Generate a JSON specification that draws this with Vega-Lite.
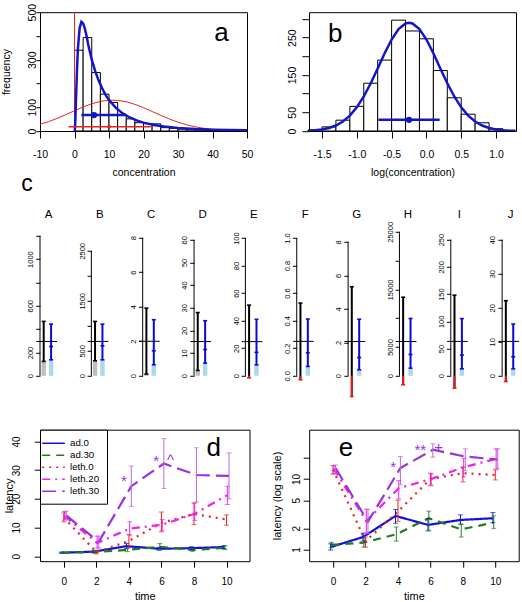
{
"$schema": "https://vega.github.io/schema/vega-lite/v6.json",
"padding": {"left": 0, "top": 2.2, "right": 0, "bottom": 0},
"background": "white",
"config": {
  "font": "Liberation Sans",
  "view": {"stroke": null},
  "axis": {"grid": false, "domain": false, "tickColor": "black", "labelColor": "black", "titleColor": "black", "titleFontWeight": "normal", "labelFont": "Liberation Sans", "titleFont": "Liberation Sans", "tickWidth": 1, "labelOverlap": false, "labelFlush": false, "labelBound": false, "tickCount": 50},
  "title": {"font": "Liberation Sans", "fontWeight": "normal", "color": "black"},
  "legend": {"orient": "top-left", "offset": 0, "padding": 7, "fillColor": "white", "strokeColor": "black", "cornerRadius": 0, "symbolType": "M-2,0H2", "symbolSize": 128, "symbolStrokeWidth": 1.5, "labelFontSize": 9.7, "labelOffset": 10, "rowPadding": 0, "symbolOffset": 0, "labelFont": "Liberation Sans", "labelColor": "black"}
},
"resolve": {"scale": {"color": "independent", "strokeDash": "independent", "stroke": "independent", "fill": "independent"}},
"datasets": {
  "ha": [{"x0":0,"x1":2.5,"n":340},{"x0":2.5,"x1":5,"n":393},{"x0":5,"x1":7.5,"n":246},{"x0":7.5,"x1":10,"n":155},{"x0":10,"x1":12.5,"n":120},{"x0":12.5,"x1":15,"n":67},{"x0":15,"x1":17.5,"n":51},{"x0":17.5,"x1":20,"n":35},{"x0":20,"x1":22.5,"n":31},{"x0":22.5,"x1":25,"n":30},{"x0":25,"x1":27.5,"n":14},{"x0":27.5,"x1":30,"n":11},{"x0":30,"x1":32.5,"n":8},{"x0":32.5,"x1":35,"n":5},{"x0":35,"x1":37.5,"n":4},{"x0":37.5,"x1":40,"n":3},{"x0":40,"x1":42.5,"n":2},{"x0":42.5,"x1":45,"n":1},{"x0":45,"x1":47.5,"n":1}],
  "la": [{"x":0,"y":0},{"x":0.1,"y":4.3},{"x":0.25,"y":46.7},{"x":0.5,"y":162.6},{"x":0.75,"y":269.4},{"x":1,"y":348.3},{"x":1.5,"y":434.4},{"x":2,"y":459.4},{"x":2.5,"y":452.9},{"x":3,"y":431.3},{"x":3.5,"y":400},{"x":4,"y":362},{"x":5,"y":300},{"x":6,"y":252},{"x":7,"y":212},{"x":8,"y":180},{"x":9,"y":152},{"x":10,"y":130},{"x":12,"y":97},{"x":14,"y":74},{"x":16,"y":57},{"x":18,"y":44.7},{"x":20,"y":35.3},{"x":23,"y":25.5},{"x":26,"y":18.8},{"x":30,"y":12.9},{"x":35,"y":8.4},{"x":40,"y":5.7},{"x":45,"y":4.0},{"x":50,"y":2.9}],
  "na": [{"x":-10,"y":28.1},{"x":-7.5,"y":39.6},{"x":-5,"y":53.4},{"x":-2.5,"y":69.0},{"x":0,"y":85.4},{"x":2.5,"y":101.2},{"x":5,"y":114.7},{"x":7.5,"y":124.6},{"x":10,"y":129.5},{"x":12.5,"y":129.0},{"x":15,"y":123.0},{"x":17.5,"y":112.3},{"x":20,"y":98.1},{"x":22.5,"y":82.1},{"x":25,"y":65.8},{"x":27.5,"y":50.5},{"x":30,"y":37.1},{"x":32.5,"y":26.1},{"x":35,"y":17.6},{"x":37.5,"y":11.3},{"x":40,"y":7.0},{"x":42.5,"y":4.1},{"x":45,"y":2.4},{"x":47.5,"y":1.3},{"x":50,"y":0.7}],
  "hb": [{"x0":-1.7,"x1":-1.5,"n":3},{"x0":-1.5,"x1":-1.3,"n":11},{"x0":-1.3,"x1":-1.1,"n":29},{"x0":-1.1,"x1":-0.9,"n":66},{"x0":-0.9,"x1":-0.7,"n":128},{"x0":-0.7,"x1":-0.5,"n":190},{"x0":-0.5,"x1":-0.3,"n":297},{"x0":-0.3,"x1":-0.1,"n":268},{"x0":-0.1,"x1":0.1,"n":247},{"x0":0.1,"x1":0.3,"n":162},{"x0":0.3,"x1":0.5,"n":89},{"x0":0.5,"x1":0.7,"n":45},{"x0":0.7,"x1":0.9,"n":22},{"x0":0.9,"x1":1.1,"n":6}],
  "cb": [{"x":-1.69,"y":1.0},{"x":-1.6,"y":2.1},{"x":-1.5,"y":4.2},{"x":-1.4,"y":8.1},{"x":-1.3,"y":14.7},{"x":-1.2,"y":25.3},{"x":-1.1,"y":41.1},{"x":-1.0,"y":63.4},{"x":-0.9,"y":92.5},{"x":-0.8,"y":128.0},{"x":-0.7,"y":167.6},{"x":-0.6,"y":208.3},{"x":-0.5,"y":245.0},{"x":-0.4,"y":272.9},{"x":-0.3,"y":288.1},{"x":-0.25,"y":290},{"x":-0.2,"y":288.1},{"x":-0.1,"y":272.9},{"x":0.0,"y":245.0},{"x":0.1,"y":208.3},{"x":0.2,"y":167.6},{"x":0.3,"y":128.0},{"x":0.4,"y":92.5},{"x":0.5,"y":63.4},{"x":0.6,"y":41.1},{"x":0.7,"y":25.3},{"x":0.8,"y":14.7},{"x":0.9,"y":8.1},{"x":1.0,"y":4.2},{"x":1.1,"y":2.1},{"x":1.2,"y":1.0},{"x":1.28,"y":0.5}],
  "cp": [
    {"p":"A","m":294,"lo":123,"hi":466,"qlo":137,"qmid":251,"qhi":443,"top":1200},
    {"p":"B","m":687,"lo":300,"hi":1087,"qlo":320,"qmid":600,"qhi":1033,"top":2500},
    {"p":"C","m":2.0,"lo":0.1,"hi":3.92,"qlo":0.64,"qmid":1.45,"qhi":3.25,"top":8},
    {"p":"D","m":15.1,"lo":2.35,"hi":27.9,"qlo":5.6,"qmid":11.6,"qhi":24.3,"top":60},
    {"p":"E","m":24.8,"lo":-1.5,"hi":51.3,"qlo":8,"qmid":17,"qhi":41,"top":100},
    {"p":"F","m":0.25,"lo":-0.029,"hi":0.528,"qlo":0.068,"qmid":0.167,"qhi":0.412,"top":1.0},
    {"p":"G","m":2.05,"lo":-1.24,"hi":5.32,"qlo":0.36,"qmid":1.09,"qhi":3.38,"top":8},
    {"p":"H","m":5950,"lo":-1560,"hi":13640,"qlo":1330,"qmid":3700,"qhi":9950,"top":25000},
    {"p":"I","m":63.1,"lo":-22.6,"hi":148,"qlo":12.9,"qmid":38,"qhi":105,"top":250},
    {"p":"J","m":10.1,"lo":-1.68,"hi":22.06,"qlo":2.06,"qmid":5.6,"qhi":15.2,"top":40}
  ],
  "lat": [
    {"s":"ad.0","t":-0.15,"v":1.2,"lo":1.0,"hi":1.4},{"s":"ad.0","t":1.85,"v":1.6,"lo":1.3,"hi":1.9},{"s":"ad.0","t":3.85,"v":3.5,"lo":2.6,"hi":4.4},{"s":"ad.0","t":5.85,"v":2.6,"lo":2.1,"hi":3.1},{"s":"ad.0","t":7.85,"v":2.8,"lo":2.3,"hi":3.3},{"s":"ad.0","t":9.85,"v":3.2,"lo":2.6,"hi":3.7},
    {"s":"ad.30","t":-0.1,"v":1.2,"lo":1.0,"hi":1.4},{"s":"ad.30","t":1.9,"v":1.4,"lo":1.1,"hi":1.7},{"s":"ad.30","t":3.9,"v":2.2,"lo":1.6,"hi":2.8},{"s":"ad.30","t":5.9,"v":3.3,"lo":2.2,"hi":4.4},{"s":"ad.30","t":7.9,"v":2.2,"lo":1.7,"hi":2.7},{"s":"ad.30","t":9.9,"v":2.9,"lo":2.3,"hi":3.6},
    {"s":"leth.0","t":0,"v":13.5,"lo":12.0,"hi":15.1},{"s":"leth.0","t":2,"v":1.4,"lo":0.8,"hi":2.1},{"s":"leth.0","t":4,"v":5.3,"lo":3.0,"hi":7.5},{"s":"leth.0","t":6,"v":11.6,"lo":8.5,"hi":15.4},{"s":"leth.0","t":8,"v":14.7,"lo":11.0,"hi":18.5},{"s":"leth.0","t":10,"v":12.8,"lo":10.8,"hi":14.4},
    {"s":"leth.20","t":0.05,"v":14.0,"lo":12.6,"hi":15.6},{"s":"leth.20","t":2.05,"v":4.6,"lo":2.9,"hi":7.0},{"s":"leth.20","t":4.05,"v":9.6,"lo":7.3,"hi":12.0},{"s":"leth.20","t":6.05,"v":11.0,"lo":9.0,"hi":12.8},{"s":"leth.20","t":8.05,"v":14.8,"lo":12.5,"hi":18.6},{"s":"leth.20","t":10.05,"v":21.3,"lo":18.0,"hi":24.4},
    {"s":"leth.30","t":0.15,"v":14.2,"lo":12.7,"hi":15.7},{"s":"leth.30","t":2.15,"v":5.0,"lo":2.8,"hi":7.0},{"s":"leth.30","t":4.15,"v":24.4,"lo":17.4,"hi":31.4},{"s":"leth.30","t":6.15,"v":32.3,"lo":23.6,"hi":41.0},{"s":"leth.30","t":8.15,"v":28.3,"lo":18.9,"hi":37.8},{"s":"leth.30","t":10.15,"v":28.0,"lo":20.0,"hi":36.0}
  ],
  "loglat": [
    {"s":"ad.0","t":-0.15,"v":1.08,"lo":0.98,"hi":1.2},{"s":"ad.0","t":1.85,"v":1.5,"lo":1.31,"hi":1.7},{"s":"ad.0","t":3.85,"v":2.99,"lo":2.35,"hi":3.7},{"s":"ad.0","t":5.85,"v":2.23,"lo":1.83,"hi":2.74},{"s":"ad.0","t":7.85,"v":2.62,"lo":2.27,"hi":3.1},{"s":"ad.0","t":9.85,"v":2.77,"lo":2.4,"hi":3.34},
    {"s":"ad.30","t":-0.1,"v":1.16,"lo":1.06,"hi":1.26},{"s":"ad.30","t":1.9,"v":1.25,"lo":1.08,"hi":1.42},{"s":"ad.30","t":3.9,"v":1.64,"lo":1.31,"hi":2.08},{"s":"ad.30","t":5.9,"v":2.77,"lo":1.87,"hi":3.5},{"s":"ad.30","t":7.9,"v":1.93,"lo":1.5,"hi":2.3},{"s":"ad.30","t":9.9,"v":2.4,"lo":1.99,"hi":3.0},
    {"s":"leth.0","t":0,"v":13.5,"lo":11.8,"hi":15.5},{"s":"leth.0","t":2,"v":1.31,"lo":1.08,"hi":1.5},{"s":"leth.0","t":4,"v":3.45,"lo":2.5,"hi":5.0},{"s":"leth.0","t":6,"v":10,"lo":8.0,"hi":12.1},{"s":"leth.0","t":8,"v":12.1,"lo":9.1,"hi":14.7},{"s":"leth.0","t":10,"v":11.4,"lo":9.7,"hi":13.4},
    {"s":"leth.20","t":0.05,"v":13.9,"lo":11.8,"hi":15.5},{"s":"leth.20","t":2.05,"v":2.54,"lo":1.73,"hi":3.72},{"s":"leth.20","t":4.05,"v":7.4,"lo":5.2,"hi":9.5},{"s":"leth.20","t":6.05,"v":10,"lo":8.2,"hi":11.8},{"s":"leth.20","t":8.05,"v":14.7,"lo":10.7,"hi":19.7},{"s":"leth.20","t":10.05,"v":19.3,"lo":13.9,"hi":26.8},
    {"s":"leth.30","t":0.15,"v":14.3,"lo":11.8,"hi":15.8},{"s":"leth.30","t":2.15,"v":2.48,"lo":1.67,"hi":3.72},{"s":"leth.30","t":4.15,"v":14.3,"lo":8.3,"hi":20.8},{"s":"leth.30","t":6.15,"v":26,"lo":20.4,"hi":31.6},{"s":"leth.30","t":8.15,"v":20.8,"lo":13.1,"hi":26.8},{"s":"leth.30","t":10.15,"v":18.9,"lo":13.9,"hi":26.8}
  ]
},
"vconcat": [
 {"vconcat": [
  {"hconcat": [
   {"width": 207, "height": 118.8, "view": {"stroke": "black", "strokeWidth": 1},
    "layer": [
     {"data": {"name": "ha"}, "mark": {"type": "rect", "fill": "white", "stroke": "black", "strokeWidth": 1},
      "encoding": {
       "x": {"field": "x0", "type": "quantitative", "scale": {"domain": [-10, 50], "nice": false, "zero": false},
             "axis": {"values": [-10,0,10,20,30,40,50], "tickCount": 50, "labelExpr": "datum.value < 0 ? '-' + format(-datum.value, 'd') : format(datum.value, 'd')", "title": "concentration", "tickSize": 7, "labelPadding": 11.9, "labelFontSize": 10.5, "titleFontSize": 10.5, "minExtent": 30, "maxExtent": 30, "titlePadding": 6.7, "labelOverlap": false}},
       "x2": {"field": "x1"},
       "y": {"field": "n", "type": "quantitative", "scale": {"domain": [0, 500], "nice": false, "zero": false},
             "axis": {"values": [0,100,200,300,400,500], "tickCount": 50, "labelExpr": "datum.value == 200 || datum.value == 400 ? '' : format(datum.value, 'd')", "title": "frequency", "tickSize": 4, "labelPadding": 0.9, "labelAngle": -90, "labelAlign": "center", "labelBaseline": "alphabetic", "labelFontSize": 10.5, "titleFontSize": 10.5, "titleAngle": 270, "titleBaseline": "alphabetic", "minExtent": 14, "maxExtent": 14, "titlePadding": 16.8, "labelOverlap": false}},
       "y2": {"datum": 0}}},
     {"data": {"name": "na"}, "mark": {"type": "line", "color": "#e8231f", "strokeWidth": 1, "clip": true},
      "encoding": {"x": {"field": "x", "type": "quantitative"}, "y": {"field": "y", "type": "quantitative"}}},
     {"data": {"values": [{"v": 0, "ymin": 0, "ymax": 500}]}, "mark": {"type": "rule", "color": "#e8231f", "strokeWidth": 1},
      "encoding": {"x": {"field": "v", "type": "quantitative"}, "y": {"field": "ymin", "type": "quantitative"}, "y2": {"field": "ymax"}}},
     {"data": {"name": "la"}, "mark": {"type": "line", "color": "#1414c8", "strokeWidth": 2.5, "clip": true},
      "encoding": {"x": {"field": "x", "type": "quantitative"}, "y": {"field": "y", "type": "quantitative"}}},
     {"data": {"values": [{"lo": -1.7, "hi": 22.1, "y": 18, "mid": 10}]}, "mark": {"type": "rule", "color": "#e8231f", "strokeWidth": 1.5},
      "encoding": {"x": {"field": "lo", "type": "quantitative"}, "x2": {"field": "hi"}, "y": {"field": "y", "type": "quantitative"}}},
     {"data": {"values": [{"lo": -1.7, "hi": 22.1, "y": 18, "mid": 10}]}, "mark": {"type": "point", "filled": true, "color": "#e8231f", "size": 14, "opacity": 1},
      "encoding": {"x": {"field": "mid", "type": "quantitative"}, "y": {"field": "y", "type": "quantitative"}}},
     {"data": {"values": [{"lo": 2.0, "hi": 15.0, "y": 67, "mid": 5.65}]}, "mark": {"type": "rule", "color": "#1414c8", "strokeWidth": 2.5},
      "encoding": {"x": {"field": "lo", "type": "quantitative"}, "x2": {"field": "hi"}, "y": {"field": "y", "type": "quantitative"}}},
     {"data": {"values": [{"lo": 2.0, "hi": 15.0, "y": 67, "mid": 5.65}]}, "mark": {"type": "point", "filled": true, "color": "#1414c8", "size": 40, "opacity": 1},
      "encoding": {"x": {"field": "mid", "type": "quantitative"}, "y": {"field": "y", "type": "quantitative"}}},
     {"data": {"values": [{"x": 42.6, "y": 377, "t": "a"}]}, "mark": {"type": "text", "fontSize": 26, "baseline": "alphabetic", "align": "center", "color": "black"},
      "encoding": {"x": {"field": "x", "type": "quantitative"}, "y": {"field": "y", "type": "quantitative"}, "text": {"field": "t"}}}
    ]},
   {"width": 207, "height": 118.8, "view": {"stroke": "black", "strokeWidth": 1},
    "layer": [
     {"data": {"name": "hb"}, "mark": {"type": "rect", "fill": "white", "stroke": "black", "strokeWidth": 1},
      "encoding": {
       "x": {"field": "x0", "type": "quantitative", "scale": {"domain": [-1.687, 1.287], "nice": false, "zero": false},
             "axis": {"values": [-1.5,-1.0,-0.5,0.0,0.5,1.0], "tickCount": 50, "labelExpr": "datum.value < 0 ? '-' + format(-datum.value, '.1f') : format(datum.value, '.1f')", "title": "log(concentration)", "tickSize": 7, "labelPadding": 11.9, "labelFontSize": 10.5, "titleFontSize": 10.5, "minExtent": 30, "maxExtent": 30, "titlePadding": 6.7, "labelOverlap": false}},
       "x2": {"field": "x1"},
       "y": {"field": "n", "type": "quantitative", "scale": {"domain": [0, 318.3], "nice": false, "zero": false},
             "axis": {"values": [0,50,100,150,200,250,300], "tickCount": 50, "labelExpr": "indexof([0,50,150,250], datum.value) >= 0 ? format(datum.value, 'd') : ''", "title": null, "tickSize": 7, "labelPadding": 6, "labelAngle": -90, "labelAlign": "center", "labelBaseline": "alphabetic", "labelFontSize": 10.5, "minExtent": 20, "maxExtent": 20, "labelOverlap": false}},
       "y2": {"datum": 0}}},
     {"data": {"name": "cb"}, "mark": {"type": "line", "color": "#1414c8", "strokeWidth": 2.5, "clip": true},
      "encoding": {"x": {"field": "x", "type": "quantitative"}, "y": {"field": "y", "type": "quantitative"}}},
     {"data": {"values": [{"lo": -0.69, "hi": 0.19, "y": 30, "mid": -0.25}]}, "mark": {"type": "rule", "color": "#1414c8", "strokeWidth": 2.5},
      "encoding": {"x": {"field": "lo", "type": "quantitative"}, "x2": {"field": "hi"}, "y": {"field": "y", "type": "quantitative"}}},
     {"data": {"values": [{"lo": -0.69, "hi": 0.19, "y": 30, "mid": -0.25}]}, "mark": {"type": "point", "filled": true, "color": "#1414c8", "size": 40, "opacity": 1},
      "encoding": {"x": {"field": "mid", "type": "quantitative"}, "y": {"field": "y", "type": "quantitative"}}},
     {"data": {"values": [{"x": -1.31, "y": 239, "t": "b"}]}, "mark": {"type": "text", "fontSize": 26, "baseline": "alphabetic", "align": "center", "color": "black"},
      "encoding": {"x": {"field": "x", "type": "quantitative"}, "y": {"field": "y", "type": "quantitative"}, "text": {"field": "t"}}}
    ]}
  ], "spacing": 62, "bounds": "flush"},
  {"title": {"text": "c", "anchor": "start", "fontSize": 23, "baseline": "alphabetic", "offset": -5.7, "dx": 13},
   "hconcat": [
    {"width": 17, "height": 146, "title": {"text": "A", "frame": "group", "offset": -1.5, "fontSize": 11.5, "anchor": "middle", "baseline": "bottom"},
     "data": {"name": "cp"}, "transform": [{"filter": "datum.p == 'A'"}],
     "layer": [
      {"mark": {"type": "rule", "color": "black", "strokeWidth": 1}, "encoding": {"x": {"datum": 0.5, "type": "quantitative", "scale": {"domain": [0.5, 2.8], "nice": false, "zero": false}, "axis": null}, "y": {"field": "top", "type": "quantitative", "scale": {"domain": [0, 1251], "nice": false, "zero": false}, "axis": {"values": [0,200,400,600,800,1000,1200], "tickCount": 50, "labelExpr": "indexof([0,200,600,1000], datum.value) >= 0 ? format(datum.value, 'd') : ''", "title": null, "tickSize": 4.3, "labelPadding": 3, "labelAngle": -90, "labelAlign": "center", "labelBaseline": "alphabetic", "labelFontSize": 7.5, "minExtent": 31.7, "maxExtent": 31.7, "labelOverlap": false}}, "y2": {"datum": 0}}},
      {"transform": [{"filter": "datum.lo > 0"}], "mark": {"type": "rect", "color": "#bebebe"}, "encoding": {"x": {"datum": 0.7, "type": "quantitative", "axis": null}, "x2": {"datum": 1.3}, "y": {"field": "lo", "type": "quantitative"}, "y2": {"datum": 0}}},
      {"mark": {"type": "rect", "color": "#add8e6"}, "encoding": {"x": {"datum": 1.7, "type": "quantitative", "axis": null}, "x2": {"datum": 2.3}, "y": {"field": "qlo", "type": "quantitative"}, "y2": {"datum": 0}}},
      {"mark": {"type": "rule", "color": "black", "strokeWidth": 1}, "encoding": {"x": {"datum": 0, "type": "quantitative", "axis": null}, "x2": {"datum": 2.8}, "y": {"field": "m", "type": "quantitative"}}},
      {"mark": {"type": "rule", "color": "black", "strokeWidth": 2}, "encoding": {"x": {"datum": 1, "type": "quantitative", "axis": null}, "y": {"field": "lo", "type": "quantitative"}, "y2": {"field": "hi"}}},
      {"transform": [{"filter": "datum.lo < 0"}], "mark": {"type": "rule", "color": "#e01e1e", "strokeWidth": 2}, "encoding": {"x": {"datum": 1, "type": "quantitative", "axis": null}, "y": {"field": "lo", "type": "quantitative"}, "y2": {"datum": 0}}},
      {"mark": {"type": "rule", "color": "black", "strokeWidth": 1.6}, "encoding": {"x": {"datum": 0.73, "type": "quantitative", "axis": null}, "x2": {"datum": 1.27}, "y": {"field": "hi", "type": "quantitative"}}},
      {"mark": {"type": "rule", "strokeWidth": 1.6}, "encoding": {"x": {"datum": 0.73, "type": "quantitative", "axis": null}, "x2": {"datum": 1.27}, "y": {"field": "lo", "type": "quantitative"}, "color": {"condition": {"test": "datum.lo < 0", "value": "#e01e1e"}, "value": "black"}}},
      {"mark": {"type": "rule", "color": "#0a0ad2", "strokeWidth": 2}, "encoding": {"x": {"datum": 2, "type": "quantitative", "axis": null}, "y": {"field": "qlo", "type": "quantitative"}, "y2": {"field": "qhi"}}},
      {"transform": [{"fold": ["qlo", "qmid", "qhi"]}], "mark": {"type": "rule", "color": "#0a0ad2", "strokeWidth": 1.6}, "encoding": {"x": {"datum": 1.73, "type": "quantitative", "axis": null}, "x2": {"datum": 2.27}, "y": {"field": "value", "type": "quantitative"}}}
     ]},
    {"width": 17, "height": 146, "title": {"text": "B", "frame": "group", "offset": -1.5, "fontSize": 11.5, "anchor": "middle", "baseline": "bottom"},
     "data": {"name": "cp"}, "transform": [{"filter": "datum.p == 'B'"}],
     "layer": [
      {"mark": {"type": "rule", "color": "black", "strokeWidth": 1}, "encoding": {"x": {"datum": 0.5, "type": "quantitative", "scale": {"domain": [0.5, 2.8], "nice": false, "zero": false}, "axis": null}, "y": {"field": "top", "type": "quantitative", "scale": {"domain": [0, 2920], "nice": false, "zero": false}, "axis": {"values": [0,500,1000,1500,2000,2500], "tickCount": 50, "labelExpr": "indexof([0,500,1500,2500], datum.value) >= 0 ? format(datum.value, 'd') : ''", "title": null, "tickSize": 4.3, "labelPadding": 3, "labelAngle": -90, "labelAlign": "center", "labelBaseline": "alphabetic", "labelFontSize": 7.5, "minExtent": 15, "maxExtent": 15, "labelOverlap": false}}, "y2": {"datum": 0}}},
      {"transform": [{"filter": "datum.lo > 0"}], "mark": {"type": "rect", "color": "#bebebe"}, "encoding": {"x": {"datum": 0.7, "type": "quantitative", "axis": null}, "x2": {"datum": 1.3}, "y": {"field": "lo", "type": "quantitative"}, "y2": {"datum": 0}}},
      {"mark": {"type": "rect", "color": "#add8e6"}, "encoding": {"x": {"datum": 1.7, "type": "quantitative", "axis": null}, "x2": {"datum": 2.3}, "y": {"field": "qlo", "type": "quantitative"}, "y2": {"datum": 0}}},
      {"mark": {"type": "rule", "color": "black", "strokeWidth": 1}, "encoding": {"x": {"datum": 0, "type": "quantitative", "axis": null}, "x2": {"datum": 2.8}, "y": {"field": "m", "type": "quantitative"}}},
      {"mark": {"type": "rule", "color": "black", "strokeWidth": 2}, "encoding": {"x": {"datum": 1, "type": "quantitative", "axis": null}, "y": {"field": "lo", "type": "quantitative"}, "y2": {"field": "hi"}}},
      {"transform": [{"filter": "datum.lo < 0"}], "mark": {"type": "rule", "color": "#e01e1e", "strokeWidth": 2}, "encoding": {"x": {"datum": 1, "type": "quantitative", "axis": null}, "y": {"field": "lo", "type": "quantitative"}, "y2": {"datum": 0}}},
      {"mark": {"type": "rule", "color": "black", "strokeWidth": 1.6}, "encoding": {"x": {"datum": 0.73, "type": "quantitative", "axis": null}, "x2": {"datum": 1.27}, "y": {"field": "hi", "type": "quantitative"}}},
      {"mark": {"type": "rule", "strokeWidth": 1.6}, "encoding": {"x": {"datum": 0.73, "type": "quantitative", "axis": null}, "x2": {"datum": 1.27}, "y": {"field": "lo", "type": "quantitative"}, "color": {"condition": {"test": "datum.lo < 0", "value": "#e01e1e"}, "value": "black"}}},
      {"mark": {"type": "rule", "color": "#0a0ad2", "strokeWidth": 2}, "encoding": {"x": {"datum": 2, "type": "quantitative", "axis": null}, "y": {"field": "qlo", "type": "quantitative"}, "y2": {"field": "qhi"}}},
      {"transform": [{"fold": ["qlo", "qmid", "qhi"]}], "mark": {"type": "rule", "color": "#0a0ad2", "strokeWidth": 1.6}, "encoding": {"x": {"datum": 1.73, "type": "quantitative", "axis": null}, "x2": {"datum": 2.27}, "y": {"field": "value", "type": "quantitative"}}}
     ]},
    {"width": 17, "height": 146, "title": {"text": "C", "frame": "group", "offset": -1.5, "fontSize": 11.5, "anchor": "middle", "baseline": "bottom"},
     "data": {"name": "cp"}, "transform": [{"filter": "datum.p == 'C'"}],
     "layer": [
      {"mark": {"type": "rule", "color": "black", "strokeWidth": 1}, "encoding": {"x": {"datum": 0.5, "type": "quantitative", "scale": {"domain": [0.5, 2.8], "nice": false, "zero": false}, "axis": null}, "y": {"field": "top", "type": "quantitative", "scale": {"domain": [0, 8.46], "nice": false, "zero": false}, "axis": {"values": [0,2,4,6,8], "tickCount": 50, "format": "d", "title": null, "tickSize": 4.3, "labelPadding": 3, "labelAngle": -90, "labelAlign": "center", "labelBaseline": "alphabetic", "labelFontSize": 7.5, "minExtent": 15, "maxExtent": 15, "labelOverlap": false}}, "y2": {"datum": 0}}},
      {"transform": [{"filter": "datum.lo > 0"}], "mark": {"type": "rect", "color": "#bebebe"}, "encoding": {"x": {"datum": 0.7, "type": "quantitative", "axis": null}, "x2": {"datum": 1.3}, "y": {"field": "lo", "type": "quantitative"}, "y2": {"datum": 0}}},
      {"mark": {"type": "rect", "color": "#add8e6"}, "encoding": {"x": {"datum": 1.7, "type": "quantitative", "axis": null}, "x2": {"datum": 2.3}, "y": {"field": "qlo", "type": "quantitative"}, "y2": {"datum": 0}}},
      {"mark": {"type": "rule", "color": "black", "strokeWidth": 1}, "encoding": {"x": {"datum": 0, "type": "quantitative", "axis": null}, "x2": {"datum": 2.8}, "y": {"field": "m", "type": "quantitative"}}},
      {"mark": {"type": "rule", "color": "black", "strokeWidth": 2}, "encoding": {"x": {"datum": 1, "type": "quantitative", "axis": null}, "y": {"field": "lo", "type": "quantitative"}, "y2": {"field": "hi"}}},
      {"transform": [{"filter": "datum.lo < 0"}], "mark": {"type": "rule", "color": "#e01e1e", "strokeWidth": 2}, "encoding": {"x": {"datum": 1, "type": "quantitative", "axis": null}, "y": {"field": "lo", "type": "quantitative"}, "y2": {"datum": 0}}},
      {"mark": {"type": "rule", "color": "black", "strokeWidth": 1.6}, "encoding": {"x": {"datum": 0.73, "type": "quantitative", "axis": null}, "x2": {"datum": 1.27}, "y": {"field": "hi", "type": "quantitative"}}},
      {"mark": {"type": "rule", "strokeWidth": 1.6}, "encoding": {"x": {"datum": 0.73, "type": "quantitative", "axis": null}, "x2": {"datum": 1.27}, "y": {"field": "lo", "type": "quantitative"}, "color": {"condition": {"test": "datum.lo < 0", "value": "#e01e1e"}, "value": "black"}}},
      {"mark": {"type": "rule", "color": "#0a0ad2", "strokeWidth": 2}, "encoding": {"x": {"datum": 2, "type": "quantitative", "axis": null}, "y": {"field": "qlo", "type": "quantitative"}, "y2": {"field": "qhi"}}},
      {"transform": [{"fold": ["qlo", "qmid", "qhi"]}], "mark": {"type": "rule", "color": "#0a0ad2", "strokeWidth": 1.6}, "encoding": {"x": {"datum": 1.73, "type": "quantitative", "axis": null}, "x2": {"datum": 2.27}, "y": {"field": "value", "type": "quantitative"}}}
     ]},
    {"width": 17, "height": 146, "title": {"text": "D", "frame": "group", "offset": -1.5, "fontSize": 11.5, "anchor": "middle", "baseline": "bottom"},
     "data": {"name": "cp"}, "transform": [{"filter": "datum.p == 'D'"}],
     "layer": [
      {"mark": {"type": "rule", "color": "black", "strokeWidth": 1}, "encoding": {"x": {"datum": 0.5, "type": "quantitative", "scale": {"domain": [0.5, 2.8], "nice": false, "zero": false}, "axis": null}, "y": {"field": "top", "type": "quantitative", "scale": {"domain": [0, 64.4], "nice": false, "zero": false}, "axis": {"values": [0,10,20,30,40,50,60], "tickCount": 50, "format": "d", "title": null, "tickSize": 4.3, "labelPadding": 3, "labelAngle": -90, "labelAlign": "center", "labelBaseline": "alphabetic", "labelFontSize": 7.5, "minExtent": 15, "maxExtent": 15, "labelOverlap": false}}, "y2": {"datum": 0}}},
      {"transform": [{"filter": "datum.lo > 0"}], "mark": {"type": "rect", "color": "#bebebe"}, "encoding": {"x": {"datum": 0.7, "type": "quantitative", "axis": null}, "x2": {"datum": 1.3}, "y": {"field": "lo", "type": "quantitative"}, "y2": {"datum": 0}}},
      {"mark": {"type": "rect", "color": "#add8e6"}, "encoding": {"x": {"datum": 1.7, "type": "quantitative", "axis": null}, "x2": {"datum": 2.3}, "y": {"field": "qlo", "type": "quantitative"}, "y2": {"datum": 0}}},
      {"mark": {"type": "rule", "color": "black", "strokeWidth": 1}, "encoding": {"x": {"datum": 0, "type": "quantitative", "axis": null}, "x2": {"datum": 2.8}, "y": {"field": "m", "type": "quantitative"}}},
      {"mark": {"type": "rule", "color": "black", "strokeWidth": 2}, "encoding": {"x": {"datum": 1, "type": "quantitative", "axis": null}, "y": {"field": "lo", "type": "quantitative"}, "y2": {"field": "hi"}}},
      {"transform": [{"filter": "datum.lo < 0"}], "mark": {"type": "rule", "color": "#e01e1e", "strokeWidth": 2}, "encoding": {"x": {"datum": 1, "type": "quantitative", "axis": null}, "y": {"field": "lo", "type": "quantitative"}, "y2": {"datum": 0}}},
      {"mark": {"type": "rule", "color": "black", "strokeWidth": 1.6}, "encoding": {"x": {"datum": 0.73, "type": "quantitative", "axis": null}, "x2": {"datum": 1.27}, "y": {"field": "hi", "type": "quantitative"}}},
      {"mark": {"type": "rule", "strokeWidth": 1.6}, "encoding": {"x": {"datum": 0.73, "type": "quantitative", "axis": null}, "x2": {"datum": 1.27}, "y": {"field": "lo", "type": "quantitative"}, "color": {"condition": {"test": "datum.lo < 0", "value": "#e01e1e"}, "value": "black"}}},
      {"mark": {"type": "rule", "color": "#0a0ad2", "strokeWidth": 2}, "encoding": {"x": {"datum": 2, "type": "quantitative", "axis": null}, "y": {"field": "qlo", "type": "quantitative"}, "y2": {"field": "qhi"}}},
      {"transform": [{"fold": ["qlo", "qmid", "qhi"]}], "mark": {"type": "rule", "color": "#0a0ad2", "strokeWidth": 1.6}, "encoding": {"x": {"datum": 1.73, "type": "quantitative", "axis": null}, "x2": {"datum": 2.27}, "y": {"field": "value", "type": "quantitative"}}}
     ]},
    {"width": 17, "height": 146, "title": {"text": "E", "frame": "group", "offset": -1.5, "fontSize": 11.5, "anchor": "middle", "baseline": "bottom"},
     "data": {"name": "cp"}, "transform": [{"filter": "datum.p == 'E'"}],
     "layer": [
      {"mark": {"type": "rule", "color": "black", "strokeWidth": 1}, "encoding": {"x": {"datum": 0.5, "type": "quantitative", "scale": {"domain": [0.5, 2.8], "nice": false, "zero": false}, "axis": null}, "y": {"field": "top", "type": "quantitative", "scale": {"domain": [0, 106], "nice": false, "zero": false}, "axis": {"values": [0,20,40,60,80,100], "tickCount": 50, "format": "d", "title": null, "tickSize": 4.3, "labelPadding": 3, "labelAngle": -90, "labelAlign": "center", "labelBaseline": "alphabetic", "labelFontSize": 7.5, "minExtent": 15, "maxExtent": 15, "labelOverlap": false}}, "y2": {"datum": 0}}},
      {"transform": [{"filter": "datum.lo > 0"}], "mark": {"type": "rect", "color": "#bebebe"}, "encoding": {"x": {"datum": 0.7, "type": "quantitative", "axis": null}, "x2": {"datum": 1.3}, "y": {"field": "lo", "type": "quantitative"}, "y2": {"datum": 0}}},
      {"mark": {"type": "rect", "color": "#add8e6"}, "encoding": {"x": {"datum": 1.7, "type": "quantitative", "axis": null}, "x2": {"datum": 2.3}, "y": {"field": "qlo", "type": "quantitative"}, "y2": {"datum": 0}}},
      {"mark": {"type": "rule", "color": "black", "strokeWidth": 1}, "encoding": {"x": {"datum": 0, "type": "quantitative", "axis": null}, "x2": {"datum": 2.8}, "y": {"field": "m", "type": "quantitative"}}},
      {"mark": {"type": "rule", "color": "black", "strokeWidth": 2}, "encoding": {"x": {"datum": 1, "type": "quantitative", "axis": null}, "y": {"field": "lo", "type": "quantitative"}, "y2": {"field": "hi"}}},
      {"transform": [{"filter": "datum.lo < 0"}], "mark": {"type": "rule", "color": "#e01e1e", "strokeWidth": 2}, "encoding": {"x": {"datum": 1, "type": "quantitative", "axis": null}, "y": {"field": "lo", "type": "quantitative"}, "y2": {"datum": 0}}},
      {"mark": {"type": "rule", "color": "black", "strokeWidth": 1.6}, "encoding": {"x": {"datum": 0.73, "type": "quantitative", "axis": null}, "x2": {"datum": 1.27}, "y": {"field": "hi", "type": "quantitative"}}},
      {"mark": {"type": "rule", "strokeWidth": 1.6}, "encoding": {"x": {"datum": 0.73, "type": "quantitative", "axis": null}, "x2": {"datum": 1.27}, "y": {"field": "lo", "type": "quantitative"}, "color": {"condition": {"test": "datum.lo < 0", "value": "#e01e1e"}, "value": "black"}}},
      {"mark": {"type": "rule", "color": "#0a0ad2", "strokeWidth": 2}, "encoding": {"x": {"datum": 2, "type": "quantitative", "axis": null}, "y": {"field": "qlo", "type": "quantitative"}, "y2": {"field": "qhi"}}},
      {"transform": [{"fold": ["qlo", "qmid", "qhi"]}], "mark": {"type": "rule", "color": "#0a0ad2", "strokeWidth": 1.6}, "encoding": {"x": {"datum": 1.73, "type": "quantitative", "axis": null}, "x2": {"datum": 2.27}, "y": {"field": "value", "type": "quantitative"}}}
     ]},
    {"width": 17, "height": 146, "title": {"text": "F", "frame": "group", "offset": -1.5, "fontSize": 11.5, "anchor": "middle", "baseline": "bottom"},
     "data": {"name": "cp"}, "transform": [{"filter": "datum.p == 'F'"}],
     "layer": [
      {"mark": {"type": "rule", "color": "black", "strokeWidth": 1}, "encoding": {"x": {"datum": 0.5, "type": "quantitative", "scale": {"domain": [0.5, 2.8], "nice": false, "zero": false}, "axis": null}, "y": {"field": "top", "type": "quantitative", "scale": {"domain": [0, 1.06], "nice": false, "zero": false}, "axis": {"values": [0,0.2,0.4,0.6,0.8,1.0], "tickCount": 50, "format": ".1f", "title": null, "tickSize": 4.3, "labelPadding": 3, "labelAngle": -90, "labelAlign": "center", "labelBaseline": "alphabetic", "labelFontSize": 7.5, "minExtent": 15, "maxExtent": 15, "labelOverlap": false}}, "y2": {"datum": 0}}},
      {"transform": [{"filter": "datum.lo > 0"}], "mark": {"type": "rect", "color": "#bebebe"}, "encoding": {"x": {"datum": 0.7, "type": "quantitative", "axis": null}, "x2": {"datum": 1.3}, "y": {"field": "lo", "type": "quantitative"}, "y2": {"datum": 0}}},
      {"mark": {"type": "rect", "color": "#add8e6"}, "encoding": {"x": {"datum": 1.7, "type": "quantitative", "axis": null}, "x2": {"datum": 2.3}, "y": {"field": "qlo", "type": "quantitative"}, "y2": {"datum": 0}}},
      {"mark": {"type": "rule", "color": "black", "strokeWidth": 1}, "encoding": {"x": {"datum": 0, "type": "quantitative", "axis": null}, "x2": {"datum": 2.8}, "y": {"field": "m", "type": "quantitative"}}},
      {"mark": {"type": "rule", "color": "black", "strokeWidth": 2}, "encoding": {"x": {"datum": 1, "type": "quantitative", "axis": null}, "y": {"field": "lo", "type": "quantitative"}, "y2": {"field": "hi"}}},
      {"transform": [{"filter": "datum.lo < 0"}], "mark": {"type": "rule", "color": "#e01e1e", "strokeWidth": 2}, "encoding": {"x": {"datum": 1, "type": "quantitative", "axis": null}, "y": {"field": "lo", "type": "quantitative"}, "y2": {"datum": 0}}},
      {"mark": {"type": "rule", "color": "black", "strokeWidth": 1.6}, "encoding": {"x": {"datum": 0.73, "type": "quantitative", "axis": null}, "x2": {"datum": 1.27}, "y": {"field": "hi", "type": "quantitative"}}},
      {"mark": {"type": "rule", "strokeWidth": 1.6}, "encoding": {"x": {"datum": 0.73, "type": "quantitative", "axis": null}, "x2": {"datum": 1.27}, "y": {"field": "lo", "type": "quantitative"}, "color": {"condition": {"test": "datum.lo < 0", "value": "#e01e1e"}, "value": "black"}}},
      {"mark": {"type": "rule", "color": "#0a0ad2", "strokeWidth": 2}, "encoding": {"x": {"datum": 2, "type": "quantitative", "axis": null}, "y": {"field": "qlo", "type": "quantitative"}, "y2": {"field": "qhi"}}},
      {"transform": [{"fold": ["qlo", "qmid", "qhi"]}], "mark": {"type": "rule", "color": "#0a0ad2", "strokeWidth": 1.6}, "encoding": {"x": {"datum": 1.73, "type": "quantitative", "axis": null}, "x2": {"datum": 2.27}, "y": {"field": "value", "type": "quantitative"}}}
     ]},
    {"width": 17, "height": 146, "title": {"text": "G", "frame": "group", "offset": -1.5, "fontSize": 11.5, "anchor": "middle", "baseline": "bottom"},
     "data": {"name": "cp"}, "transform": [{"filter": "datum.p == 'G'"}],
     "layer": [
      {"mark": {"type": "rule", "color": "black", "strokeWidth": 1}, "encoding": {"x": {"datum": 0.5, "type": "quantitative", "scale": {"domain": [0.5, 2.8], "nice": false, "zero": false}, "axis": null}, "y": {"field": "top", "type": "quantitative", "scale": {"domain": [0, 8.72], "nice": false, "zero": false}, "axis": {"values": [0,2,4,6,8], "tickCount": 50, "format": "d", "title": null, "tickSize": 4.3, "labelPadding": 3, "labelAngle": -90, "labelAlign": "center", "labelBaseline": "alphabetic", "labelFontSize": 7.5, "minExtent": 15, "maxExtent": 15, "labelOverlap": false}}, "y2": {"datum": 0}}},
      {"transform": [{"filter": "datum.lo > 0"}], "mark": {"type": "rect", "color": "#bebebe"}, "encoding": {"x": {"datum": 0.7, "type": "quantitative", "axis": null}, "x2": {"datum": 1.3}, "y": {"field": "lo", "type": "quantitative"}, "y2": {"datum": 0}}},
      {"mark": {"type": "rect", "color": "#add8e6"}, "encoding": {"x": {"datum": 1.7, "type": "quantitative", "axis": null}, "x2": {"datum": 2.3}, "y": {"field": "qlo", "type": "quantitative"}, "y2": {"datum": 0}}},
      {"mark": {"type": "rule", "color": "black", "strokeWidth": 1}, "encoding": {"x": {"datum": 0, "type": "quantitative", "axis": null}, "x2": {"datum": 2.8}, "y": {"field": "m", "type": "quantitative"}}},
      {"mark": {"type": "rule", "color": "black", "strokeWidth": 2}, "encoding": {"x": {"datum": 1, "type": "quantitative", "axis": null}, "y": {"field": "lo", "type": "quantitative"}, "y2": {"field": "hi"}}},
      {"transform": [{"filter": "datum.lo < 0"}], "mark": {"type": "rule", "color": "#e01e1e", "strokeWidth": 2}, "encoding": {"x": {"datum": 1, "type": "quantitative", "axis": null}, "y": {"field": "lo", "type": "quantitative"}, "y2": {"datum": 0}}},
      {"mark": {"type": "rule", "color": "black", "strokeWidth": 1.6}, "encoding": {"x": {"datum": 0.73, "type": "quantitative", "axis": null}, "x2": {"datum": 1.27}, "y": {"field": "hi", "type": "quantitative"}}},
      {"mark": {"type": "rule", "strokeWidth": 1.6}, "encoding": {"x": {"datum": 0.73, "type": "quantitative", "axis": null}, "x2": {"datum": 1.27}, "y": {"field": "lo", "type": "quantitative"}, "color": {"condition": {"test": "datum.lo < 0", "value": "#e01e1e"}, "value": "black"}}},
      {"mark": {"type": "rule", "color": "#0a0ad2", "strokeWidth": 2}, "encoding": {"x": {"datum": 2, "type": "quantitative", "axis": null}, "y": {"field": "qlo", "type": "quantitative"}, "y2": {"field": "qhi"}}},
      {"transform": [{"fold": ["qlo", "qmid", "qhi"]}], "mark": {"type": "rule", "color": "#0a0ad2", "strokeWidth": 1.6}, "encoding": {"x": {"datum": 1.73, "type": "quantitative", "axis": null}, "x2": {"datum": 2.27}, "y": {"field": "value", "type": "quantitative"}}}
     ]},
    {"width": 17, "height": 146, "title": {"text": "H", "frame": "group", "offset": -9.9, "fontSize": 11.5, "anchor": "middle", "baseline": "bottom"},
     "data": {"name": "cp"}, "transform": [{"filter": "datum.p == 'H'"}],
     "layer": [
      {"mark": {"type": "rule", "color": "black", "strokeWidth": 1}, "encoding": {"x": {"datum": 0.5, "type": "quantitative", "scale": {"domain": [0.5, 2.8], "nice": false, "zero": false}, "axis": null}, "y": {"field": "top", "type": "quantitative", "scale": {"domain": [0, 25350], "nice": false, "zero": false}, "axis": {"values": [0,5000,10000,15000,20000,25000], "tickCount": 50, "labelExpr": "indexof([0,5000,15000,25000], datum.value) >= 0 ? format(datum.value, 'd') : ''", "title": null, "tickSize": 4.3, "labelPadding": 3, "labelAngle": -90, "labelAlign": "center", "labelBaseline": "alphabetic", "labelFontSize": 7.5, "minExtent": 15, "maxExtent": 15, "labelOverlap": false}}, "y2": {"datum": 0}}},
      {"transform": [{"filter": "datum.lo > 0"}], "mark": {"type": "rect", "color": "#bebebe"}, "encoding": {"x": {"datum": 0.7, "type": "quantitative", "axis": null}, "x2": {"datum": 1.3}, "y": {"field": "lo", "type": "quantitative"}, "y2": {"datum": 0}}},
      {"mark": {"type": "rect", "color": "#add8e6"}, "encoding": {"x": {"datum": 1.7, "type": "quantitative", "axis": null}, "x2": {"datum": 2.3}, "y": {"field": "qlo", "type": "quantitative"}, "y2": {"datum": 0}}},
      {"mark": {"type": "rule", "color": "black", "strokeWidth": 1}, "encoding": {"x": {"datum": 0, "type": "quantitative", "axis": null}, "x2": {"datum": 2.8}, "y": {"field": "m", "type": "quantitative"}}},
      {"mark": {"type": "rule", "color": "black", "strokeWidth": 2}, "encoding": {"x": {"datum": 1, "type": "quantitative", "axis": null}, "y": {"field": "lo", "type": "quantitative"}, "y2": {"field": "hi"}}},
      {"transform": [{"filter": "datum.lo < 0"}], "mark": {"type": "rule", "color": "#e01e1e", "strokeWidth": 2}, "encoding": {"x": {"datum": 1, "type": "quantitative", "axis": null}, "y": {"field": "lo", "type": "quantitative"}, "y2": {"datum": 0}}},
      {"mark": {"type": "rule", "color": "black", "strokeWidth": 1.6}, "encoding": {"x": {"datum": 0.73, "type": "quantitative", "axis": null}, "x2": {"datum": 1.27}, "y": {"field": "hi", "type": "quantitative"}}},
      {"mark": {"type": "rule", "strokeWidth": 1.6}, "encoding": {"x": {"datum": 0.73, "type": "quantitative", "axis": null}, "x2": {"datum": 1.27}, "y": {"field": "lo", "type": "quantitative"}, "color": {"condition": {"test": "datum.lo < 0", "value": "#e01e1e"}, "value": "black"}}},
      {"mark": {"type": "rule", "color": "#0a0ad2", "strokeWidth": 2}, "encoding": {"x": {"datum": 2, "type": "quantitative", "axis": null}, "y": {"field": "qlo", "type": "quantitative"}, "y2": {"field": "qhi"}}},
      {"transform": [{"fold": ["qlo", "qmid", "qhi"]}], "mark": {"type": "rule", "color": "#0a0ad2", "strokeWidth": 1.6}, "encoding": {"x": {"datum": 1.73, "type": "quantitative", "axis": null}, "x2": {"datum": 2.27}, "y": {"field": "value", "type": "quantitative"}}}
     ]},
    {"width": 17, "height": 146, "title": {"text": "I", "frame": "group", "offset": -1.5, "fontSize": 11.5, "anchor": "middle", "baseline": "bottom"},
     "data": {"name": "cp"}, "transform": [{"filter": "datum.p == 'I'"}],
     "layer": [
      {"mark": {"type": "rule", "color": "black", "strokeWidth": 1}, "encoding": {"x": {"datum": 0.5, "type": "quantitative", "scale": {"domain": [0.5, 2.8], "nice": false, "zero": false}, "axis": null}, "y": {"field": "top", "type": "quantitative", "scale": {"domain": [0, 268], "nice": false, "zero": false}, "axis": {"values": [0,50,100,150,200,250], "tickCount": 50, "format": "d", "title": null, "tickSize": 4.3, "labelPadding": 3, "labelAngle": -90, "labelAlign": "center", "labelBaseline": "alphabetic", "labelFontSize": 7.5, "minExtent": 15, "maxExtent": 15, "labelOverlap": false}}, "y2": {"datum": 0}}},
      {"transform": [{"filter": "datum.lo > 0"}], "mark": {"type": "rect", "color": "#bebebe"}, "encoding": {"x": {"datum": 0.7, "type": "quantitative", "axis": null}, "x2": {"datum": 1.3}, "y": {"field": "lo", "type": "quantitative"}, "y2": {"datum": 0}}},
      {"mark": {"type": "rect", "color": "#add8e6"}, "encoding": {"x": {"datum": 1.7, "type": "quantitative", "axis": null}, "x2": {"datum": 2.3}, "y": {"field": "qlo", "type": "quantitative"}, "y2": {"datum": 0}}},
      {"mark": {"type": "rule", "color": "black", "strokeWidth": 1}, "encoding": {"x": {"datum": 0, "type": "quantitative", "axis": null}, "x2": {"datum": 2.8}, "y": {"field": "m", "type": "quantitative"}}},
      {"mark": {"type": "rule", "color": "black", "strokeWidth": 2}, "encoding": {"x": {"datum": 1, "type": "quantitative", "axis": null}, "y": {"field": "lo", "type": "quantitative"}, "y2": {"field": "hi"}}},
      {"transform": [{"filter": "datum.lo < 0"}], "mark": {"type": "rule", "color": "#e01e1e", "strokeWidth": 2}, "encoding": {"x": {"datum": 1, "type": "quantitative", "axis": null}, "y": {"field": "lo", "type": "quantitative"}, "y2": {"datum": 0}}},
      {"mark": {"type": "rule", "color": "black", "strokeWidth": 1.6}, "encoding": {"x": {"datum": 0.73, "type": "quantitative", "axis": null}, "x2": {"datum": 1.27}, "y": {"field": "hi", "type": "quantitative"}}},
      {"mark": {"type": "rule", "strokeWidth": 1.6}, "encoding": {"x": {"datum": 0.73, "type": "quantitative", "axis": null}, "x2": {"datum": 1.27}, "y": {"field": "lo", "type": "quantitative"}, "color": {"condition": {"test": "datum.lo < 0", "value": "#e01e1e"}, "value": "black"}}},
      {"mark": {"type": "rule", "color": "#0a0ad2", "strokeWidth": 2}, "encoding": {"x": {"datum": 2, "type": "quantitative", "axis": null}, "y": {"field": "qlo", "type": "quantitative"}, "y2": {"field": "qhi"}}},
      {"transform": [{"fold": ["qlo", "qmid", "qhi"]}], "mark": {"type": "rule", "color": "#0a0ad2", "strokeWidth": 1.6}, "encoding": {"x": {"datum": 1.73, "type": "quantitative", "axis": null}, "x2": {"datum": 2.27}, "y": {"field": "value", "type": "quantitative"}}}
     ]},
    {"width": 17, "height": 146, "title": {"text": "J", "frame": "group", "offset": -1.5, "fontSize": 11.5, "anchor": "middle", "baseline": "bottom"},
     "data": {"name": "cp"}, "transform": [{"filter": "datum.p == 'J'"}],
     "layer": [
      {"mark": {"type": "rule", "color": "black", "strokeWidth": 1}, "encoding": {"x": {"datum": 0.5, "type": "quantitative", "scale": {"domain": [0.5, 2.8], "nice": false, "zero": false}, "axis": null}, "y": {"field": "top", "type": "quantitative", "scale": {"domain": [0, 42.9], "nice": false, "zero": false}, "axis": {"values": [0,10,20,30,40], "tickCount": 50, "format": "d", "title": null, "tickSize": 4.3, "labelPadding": 3, "labelAngle": -90, "labelAlign": "center", "labelBaseline": "alphabetic", "labelFontSize": 7.5, "minExtent": 15, "maxExtent": 15, "labelOverlap": false}}, "y2": {"datum": 0}}},
      {"transform": [{"filter": "datum.lo > 0"}], "mark": {"type": "rect", "color": "#bebebe"}, "encoding": {"x": {"datum": 0.7, "type": "quantitative", "axis": null}, "x2": {"datum": 1.3}, "y": {"field": "lo", "type": "quantitative"}, "y2": {"datum": 0}}},
      {"mark": {"type": "rect", "color": "#add8e6"}, "encoding": {"x": {"datum": 1.7, "type": "quantitative", "axis": null}, "x2": {"datum": 2.3}, "y": {"field": "qlo", "type": "quantitative"}, "y2": {"datum": 0}}},
      {"mark": {"type": "rule", "color": "black", "strokeWidth": 1}, "encoding": {"x": {"datum": 0, "type": "quantitative", "axis": null}, "x2": {"datum": 2.8}, "y": {"field": "m", "type": "quantitative"}}},
      {"mark": {"type": "rule", "color": "black", "strokeWidth": 2}, "encoding": {"x": {"datum": 1, "type": "quantitative", "axis": null}, "y": {"field": "lo", "type": "quantitative"}, "y2": {"field": "hi"}}},
      {"transform": [{"filter": "datum.lo < 0"}], "mark": {"type": "rule", "color": "#e01e1e", "strokeWidth": 2}, "encoding": {"x": {"datum": 1, "type": "quantitative", "axis": null}, "y": {"field": "lo", "type": "quantitative"}, "y2": {"datum": 0}}},
      {"mark": {"type": "rule", "color": "black", "strokeWidth": 1.6}, "encoding": {"x": {"datum": 0.73, "type": "quantitative", "axis": null}, "x2": {"datum": 1.27}, "y": {"field": "hi", "type": "quantitative"}}},
      {"mark": {"type": "rule", "strokeWidth": 1.6}, "encoding": {"x": {"datum": 0.73, "type": "quantitative", "axis": null}, "x2": {"datum": 1.27}, "y": {"field": "lo", "type": "quantitative"}, "color": {"condition": {"test": "datum.lo < 0", "value": "#e01e1e"}, "value": "black"}}},
      {"mark": {"type": "rule", "color": "#0a0ad2", "strokeWidth": 2}, "encoding": {"x": {"datum": 2, "type": "quantitative", "axis": null}, "y": {"field": "qlo", "type": "quantitative"}, "y2": {"field": "qhi"}}},
      {"transform": [{"fold": ["qlo", "qmid", "qhi"]}], "mark": {"type": "rule", "color": "#0a0ad2", "strokeWidth": 1.6}, "encoding": {"x": {"datum": 1.73, "type": "quantitative", "axis": null}, "x2": {"datum": 2.27}, "y": {"field": "value", "type": "quantitative"}}}
     ]}
   ], "spacing": 34.35, "bounds": "flush"}
 ], "spacing": -6.4},
 {"resolve": {"scale": {"color": "independent", "strokeDash": "independent", "stroke": "independent", "fill": "independent"}},
  "hconcat": [
  {"width": 209.5, "height": 131.5, "view": {"stroke": "black", "strokeWidth": 1},
   "layer": [
    {"data": {"name": "lat"}, "mark": {"type": "line", "strokeWidth": 2.2},
     "encoding": {
      "x": {"field": "t", "type": "quantitative", "scale": {"domain": [-1.46, 11.41], "nice": false, "zero": false},
            "axis": {"values": [0,2,4,6,8,10], "tickCount": 50, "format": "d", "title": "time", "tickSize": 6, "labelPadding": 9, "labelFontSize": 10, "titleFontSize": 11, "minExtent": 22, "maxExtent": 22, "titlePadding": 7.6, "labelOverlap": false}},
      "y": {"field": "v", "type": "quantitative", "scale": {"domain": [-1.74, 44.1], "nice": false, "zero": false},
            "axis": {"values": [0,10,20,30,40], "tickCount": 50, "format": "d", "title": "latency", "tickSize": 5.7, "labelPadding": 14.7, "labelAngle": -90, "labelAlign": "center", "labelBaseline": "alphabetic", "labelFontSize": 10, "titleFontSize": 11, "titleAngle": 270, "titleBaseline": "alphabetic", "minExtent": 14, "maxExtent": 14, "titlePadding": 13.3, "labelOverlap": false}},
      "color": {"field": "s", "type": "nominal", "scale": {"domain": ["ad.0","ad.30","leth.0","leth.20","leth.30"], "range": ["#1010e0","#237a23","#ee2020","#ee22ee","#9b30e0"]}, "legend": {"title": null}},
      "strokeDash": {"field": "s", "type": "nominal", "scale": {"domain": ["ad.0","ad.30","leth.0","leth.20","leth.30"], "range": [[1,0],[8,6],[2,5],[8,5,2,5],[14,6]]}, "legend": {"title": null}}
     }},
    {"data": {"name": "lat"}, "mark": {"type": "rule", "strokeWidth": 1},
     "encoding": {"x": {"field": "t", "type": "quantitative"}, "y": {"field": "lo", "type": "quantitative"}, "y2": {"field": "hi"},
      "stroke": {"field": "s", "type": "nominal", "scale": {"domain": ["ad.0","ad.30","leth.0","leth.20","leth.30"], "range": ["#1010e0","#237a23","#ee2020","#ee22ee","#b866e0"]}, "legend": null}}},
    {"data": {"name": "lat"}, "transform": [{"fold": ["lo", "hi"], "as": ["k", "val"]}], "mark": {"type": "tick", "orient": "horizontal", "size": 5, "thickness": 1},
     "encoding": {"x": {"field": "t", "type": "quantitative"}, "y": {"field": "val", "type": "quantitative"},
      "fill": {"field": "s", "type": "nominal", "scale": {"domain": ["ad.0","ad.30","leth.0","leth.20","leth.30"], "range": ["#1010e0","#237a23","#ee2020","#ee22ee","#b866e0"]}, "legend": null}}},
    {"data": {"values": [{"x": 3.69, "y": 24.4, "txt": "*"}, {"x": 5.68, "y": 31.5, "txt": "*"}, {"x": 6.56, "y": 31.7, "txt": "^"}]},
     "mark": {"type": "text", "fontSize": 15, "color": "#9b30e0", "baseline": "alphabetic", "align": "center"},
     "encoding": {"x": {"field": "x", "type": "quantitative"}, "y": {"field": "y", "type": "quantitative"}, "text": {"field": "txt"}}},
    {"data": {"values": [{"x": 9.21, "y": 34.8, "t": "d"}]}, "mark": {"type": "text", "fontSize": 26, "baseline": "alphabetic", "align": "center", "color": "black"},
     "encoding": {"x": {"field": "x", "type": "quantitative"}, "y": {"field": "y", "type": "quantitative"}, "text": {"field": "t"}}}
   ]},
  {"width": 209.5, "height": 131.5, "view": {"stroke": "black", "strokeWidth": 1},
   "layer": [
    {"data": {"name": "loglat"}, "mark": {"type": "line", "strokeWidth": 2.2},
     "encoding": {
      "x": {"field": "t", "type": "quantitative", "scale": {"domain": [-1.47, 11.44], "nice": false, "zero": false},
            "axis": {"values": [0,2,4,6,8,10], "tickCount": 50, "format": "d", "title": "time", "tickSize": 6, "labelPadding": 9, "labelFontSize": 10, "titleFontSize": 11, "minExtent": 22, "maxExtent": 22, "titlePadding": 7.6, "labelOverlap": false}},
      "y": {"field": "v", "type": "quantitative", "scale": {"type": "log", "domain": [0.681, 50.1], "nice": false},
            "axis": {"values": [1,2,5,10,20], "tickCount": 50, "labelExpr": "datum.value == 20 ? '' : format(datum.value, 'd')", "title": "latency (log scale)", "tickSize": 6, "labelPadding": 3.8, "labelAngle": -90, "labelAlign": "center", "labelBaseline": "alphabetic", "labelFontSize": 10, "titleFontSize": 11, "titleAngle": 270, "titleBaseline": "alphabetic", "minExtent": 14, "maxExtent": 14, "titlePadding": 14.8, "labelOverlap": false}},
      "color": {"field": "s", "type": "nominal", "scale": {"domain": ["ad.0","ad.30","leth.0","leth.20","leth.30"], "range": ["#1010e0","#237a23","#ee2020","#ee22ee","#9b30e0"]}, "legend": null},
      "strokeDash": {"field": "s", "type": "nominal", "scale": {"domain": ["ad.0","ad.30","leth.0","leth.20","leth.30"], "range": [[1,0],[8,6],[2,5],[8,5,2,5],[14,6]]}, "legend": null}
     }},
    {"data": {"name": "loglat"}, "mark": {"type": "rule", "strokeWidth": 1},
     "encoding": {"x": {"field": "t", "type": "quantitative"}, "y": {"field": "lo", "type": "quantitative"}, "y2": {"field": "hi"},
      "stroke": {"field": "s", "type": "nominal", "scale": {"domain": ["ad.0","ad.30","leth.0","leth.20","leth.30"], "range": ["#1010e0","#237a23","#ee2020","#ee22ee","#b866e0"]}, "legend": null}}},
    {"data": {"name": "loglat"}, "transform": [{"fold": ["lo", "hi"], "as": ["k", "val"]}], "mark": {"type": "tick", "orient": "horizontal", "size": 5, "thickness": 1},
     "encoding": {"x": {"field": "t", "type": "quantitative"}, "y": {"field": "val", "type": "quantitative"},
      "fill": {"field": "s", "type": "nominal", "scale": {"domain": ["ad.0","ad.30","leth.0","leth.20","leth.30"], "range": ["#1010e0","#237a23","#ee2020","#ee22ee","#b866e0"]}, "legend": null}}},
    {"data": {"values": [{"x": 3.71, "y": 12.7, "txt": "*"}, {"x": 5.38, "y": 21.9, "txt": "**"}, {"x": 6.51, "y": 24, "txt": "+"}]},
     "mark": {"type": "text", "fontSize": 15, "color": "#9b30e0", "baseline": "alphabetic", "align": "center"},
     "encoding": {"x": {"field": "x", "type": "quantitative"}, "y": {"field": "y", "type": "quantitative"}, "text": {"field": "txt"}}},
    {"data": {"values": [{"x": 0.8, "y": 21.5, "t": "e"}]}, "mark": {"type": "text", "fontSize": 26, "baseline": "alphabetic", "align": "center", "color": "black"},
     "encoding": {"x": {"field": "x", "type": "quantitative"}, "y": {"field": "y", "type": "quantitative"}, "text": {"field": "t"}}}
   ]}
 ], "spacing": 59.2, "bounds": "flush"}
],
"spacing": 30.5
}
